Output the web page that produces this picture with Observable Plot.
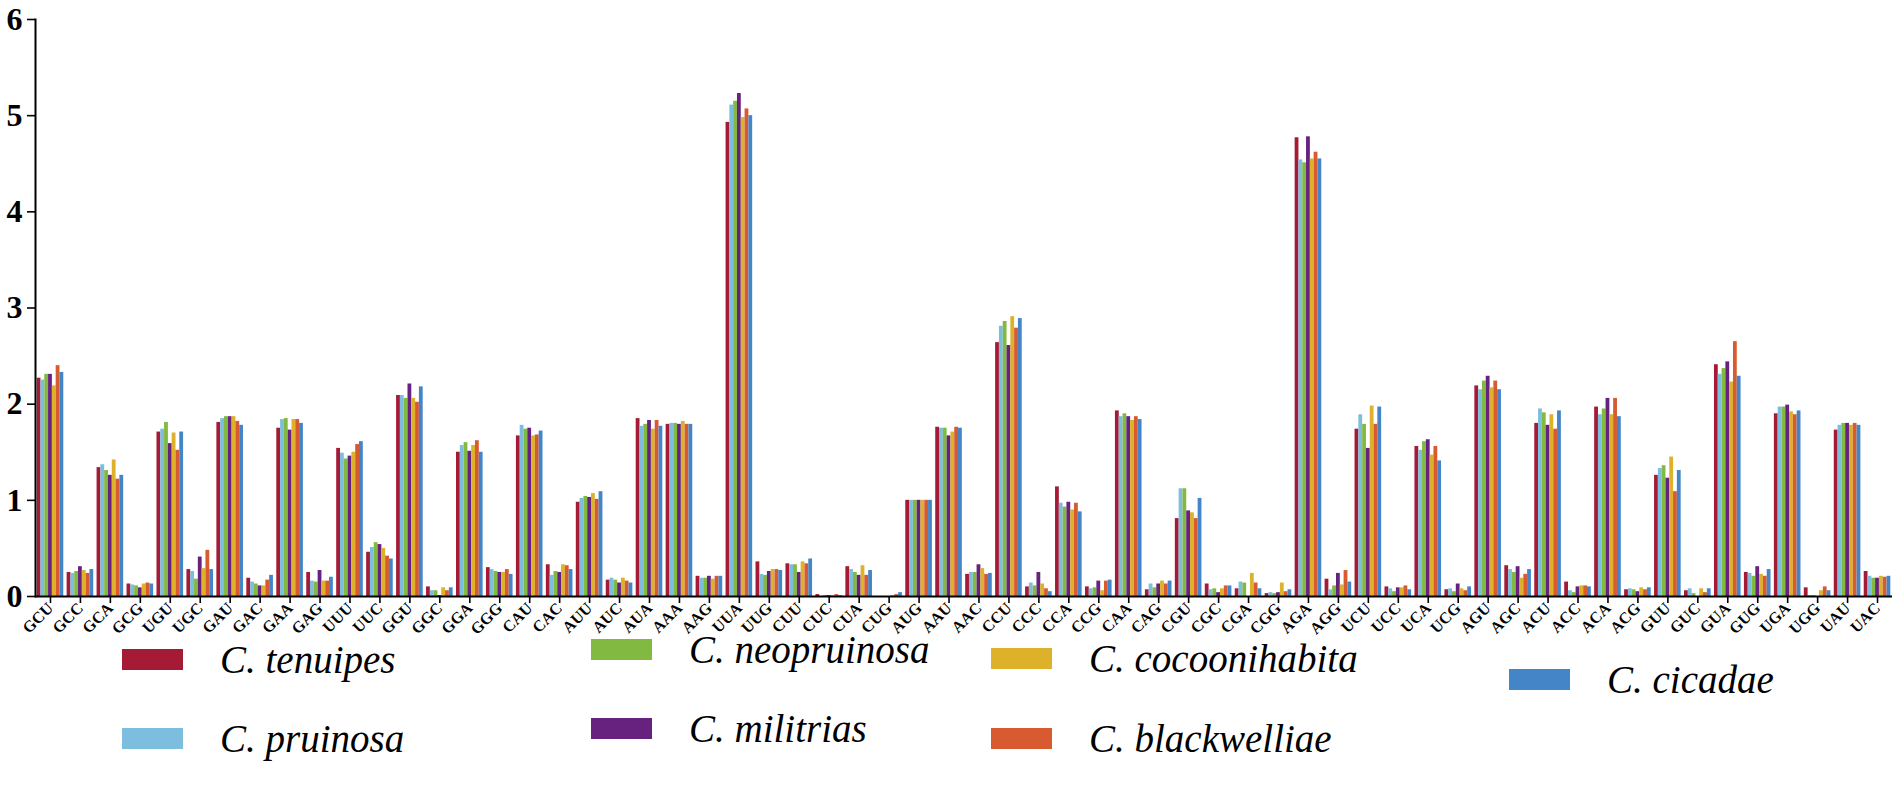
<!DOCTYPE html>
<html><head><meta charset="utf-8">
<script src="https://cdn.jsdelivr.net/npm/d3@7"></script>
<script src="https://cdn.jsdelivr.net/npm/@observablehq/plot@0.6"></script>
<style>
html,body{margin:0;padding:0;background:#fff;}
#wrap{position:relative;width:1902px;height:801px;overflow:hidden;background:#fff;}
#chart{position:absolute;left:0;top:0;}
#chart svg text{font-weight:bold;font-family:"Liberation Serif","Times New Roman",serif;}
#legend{position:absolute;left:0;top:0;width:1902px;height:801px;pointer-events:none;}
.item{position:absolute;display:flex;align-items:center;gap:37px;font-family:"Liberation Serif","Times New Roman",serif;font-style:italic;font-size:39px;line-height:1;color:#000;white-space:nowrap;}
.sw{width:61px;height:21px;flex:none;}
</style></head><body>
<div id="wrap"><div id="chart"></div><div id="legend"></div></div>
<script>
const codons = ["GCU","GCC","GCA","GCG","UGU","UGC","GAU","GAC","GAA","GAG","UUU","UUC","GGU","GGC","GGA","GGG","CAU","CAC","AUU","AUC","AUA","AAA","AAG","UUA","UUG","CUU","CUC","CUA","CUG","AUG","AAU","AAC","CCU","CCC","CCA","CCG","CAA","CAG","CGU","CGC","CGA","CGG","AGA","AGG","UCU","UCC","UCA","UCG","AGU","AGC","ACU","ACC","ACA","ACG","GUU","GUC","GUA","GUG","UGA","UGG","UAU","UAC"];
const speciesNames = ["C. tenuipes","C. pruinosa","C. neopruinosa","C. militrias","C. cocoonihabita","C. blackwelliae","C. cicadae"];
const speciesColors = ["#A51B35","#7DBEDE","#82B940","#67217F","#DDB12A","#D85A30","#4385C7"];

const tenuipes = [2.27,0.25,1.34,0.13,1.71,0.28,1.81,0.19,1.75,0.25,1.54,0.46,2.09,0.10,1.50,0.30,1.67,0.33,0.98,0.17,1.85,1.79,0.21,4.93,0.36,0.34,0.02,0.31,0.00,1.00,1.76,0.23,2.64,0.10,1.14,0.10,1.93,0.07,0.81,0.13,0.08,0.03,4.77,0.18,1.74,0.10,1.56,0.07,2.19,0.32,1.80,0.15,1.97,0.07,1.26,0.06,2.41,0.25,1.90,0.09,1.73,0.26];
const pruinosa = [2.25,0.24,1.37,0.12,1.74,0.26,1.85,0.15,1.84,0.16,1.49,0.51,2.09,0.06,1.57,0.28,1.78,0.22,1.02,0.19,1.77,1.80,0.19,5.11,0.23,0.33,0.00,0.28,0.00,1.00,1.75,0.25,2.81,0.14,0.97,0.08,1.87,0.13,1.12,0.07,0.15,0.04,4.54,0.07,1.89,0.08,1.52,0.08,2.15,0.28,1.95,0.06,1.89,0.08,1.33,0.08,2.31,0.24,1.97,0.01,1.78,0.21];
const neopruinosa = [2.31,0.26,1.31,0.11,1.81,0.18,1.87,0.13,1.85,0.15,1.43,0.56,2.06,0.06,1.60,0.26,1.74,0.26,1.04,0.17,1.79,1.80,0.19,5.15,0.22,0.33,0.01,0.25,0.00,1.00,1.75,0.25,2.86,0.11,0.93,0.09,1.90,0.09,1.12,0.08,0.14,0.03,4.51,0.11,1.79,0.05,1.61,0.05,2.24,0.25,1.91,0.04,1.95,0.07,1.36,0.03,2.37,0.21,1.97,0.01,1.80,0.19];
const militrias = [2.31,0.31,1.26,0.09,1.59,0.41,1.87,0.11,1.73,0.27,1.46,0.54,2.21,0.01,1.51,0.25,1.75,0.25,1.03,0.14,1.83,1.79,0.21,5.23,0.26,0.25,0.01,0.22,0.00,1.00,1.67,0.33,2.61,0.25,0.98,0.16,1.87,0.13,0.89,0.04,0.00,0.04,4.78,0.24,1.54,0.09,1.63,0.13,2.29,0.31,1.78,0.10,2.06,0.05,1.23,0.00,2.44,0.31,1.99,0.00,1.80,0.19];
const cocoonihabita = [2.19,0.27,1.42,0.13,1.70,0.29,1.87,0.11,1.84,0.16,1.50,0.50,2.06,0.09,1.57,0.25,1.67,0.33,1.07,0.19,1.74,1.82,0.18,4.98,0.28,0.36,0.01,0.32,0.01,1.00,1.71,0.29,2.91,0.13,0.90,0.06,1.83,0.16,0.87,0.08,0.24,0.14,4.55,0.12,1.98,0.09,1.47,0.08,2.17,0.19,1.89,0.11,1.89,0.09,1.45,0.08,2.23,0.23,1.92,0.06,1.78,0.21];
const blackwelliae = [2.40,0.24,1.22,0.14,1.52,0.48,1.82,0.17,1.84,0.16,1.58,0.42,2.02,0.06,1.62,0.28,1.68,0.32,1.01,0.16,1.83,1.79,0.21,5.07,0.28,0.34,0.02,0.22,0.02,1.00,1.76,0.23,2.79,0.08,0.97,0.16,1.87,0.13,0.81,0.11,0.14,0.05,4.62,0.27,1.79,0.11,1.56,0.06,2.24,0.23,1.74,0.11,2.06,0.07,1.09,0.04,2.65,0.21,1.89,0.10,1.80,0.20];
const cicadae = [2.33,0.28,1.26,0.13,1.71,0.28,1.78,0.22,1.80,0.20,1.61,0.39,2.18,0.09,1.50,0.23,1.72,0.28,1.09,0.14,1.77,1.79,0.21,5.00,0.27,0.39,0.01,0.27,0.04,1.00,1.75,0.24,2.89,0.05,0.88,0.17,1.84,0.16,1.02,0.11,0.08,0.07,4.55,0.15,1.97,0.07,1.41,0.10,2.15,0.28,1.93,0.10,1.87,0.09,1.31,0.08,2.29,0.28,1.93,0.06,1.78,0.21];
const seriesValues = [tenuipes, pruinosa, neopruinosa, militrias, cocoonihabita, blackwelliae, cicadae];
const yTicks = [0, 1, 2, 3, 4, 5, 6];
const yTickLabels = ["0", "1", "2", "3", "4", "5", "6"];

// legend layout: [left, top] of each swatch
const legendPlaces = [[122,649],[122,728],[591,639],[591,718],[991,648],[991,728],[1509,669]];

const W = 1902, H = 660, mL = 35, mR = 10, mT = 19, mB = 64;
const step = (W - mL - mR) / codons.length;
const barW = 3.8;
const groupPad = (step - barW * speciesNames.length) / 2;

const table = [];
speciesNames.forEach((s, j) => seriesValues[j].forEach((v, i) => table.push({codon: codons[i], species: s, value: v})));

const serif = "'Liberation Serif','Times New Roman',serif";
const barMarks = speciesNames.map((s, j) => Plot.barY(table.filter(d => d.species === s), {
  x: "codon", y: "value", fill: "species",
  insetLeft: groupPad + j * barW,
  insetRight: step - groupPad - (j + 1) * barW
}));

const chart = Plot.plot({
  width: W, height: H,
  marginLeft: mL, marginRight: mR, marginTop: mT, marginBottom: mB,
  style: {background: "#fff", color: "#000", fontFamily: serif},
  x: {domain: codons, padding: 0, round: false, axis: null},
  y: {domain: [0, 6], axis: null},
  color: {domain: speciesNames, range: speciesColors},
  marks: [
    ...barMarks,
    Plot.axisX({tickRotate: -45, tickSize: 7, tickPadding: 2, fontSize: 16, fontWeight: "bold", label: null, strokeWidth: 1.6, fontFamily: serif}),
    Plot.axisY({ticks: yTicks, tickFormat: (d) => yTickLabels[yTicks.indexOf(d)], tickSize: 8, tickPadding: 5, fontSize: 32, fontWeight: "bold", label: null, strokeWidth: 1.6, fontFamily: serif}),
    Plot.ruleY([0], {stroke: "#000", strokeWidth: 2}),
    Plot.frame({anchor: "left", stroke: "#000", strokeWidth: 2})
  ]
});
document.getElementById("chart").appendChild(chart);

const legend = document.getElementById("legend");
speciesNames.forEach((s, j) => {
  const item = document.createElement("div");
  item.className = "item";
  item.style.left = legendPlaces[j][0] + "px";
  item.style.top = (legendPlaces[j][1] - 9) + "px";
  const sw = document.createElement("div");
  sw.className = "sw";
  sw.style.background = speciesColors[j];
  const tx = document.createElement("span");
  tx.textContent = s;
  item.appendChild(sw);
  item.appendChild(tx);
  legend.appendChild(item);
});
</script>
</body></html>
